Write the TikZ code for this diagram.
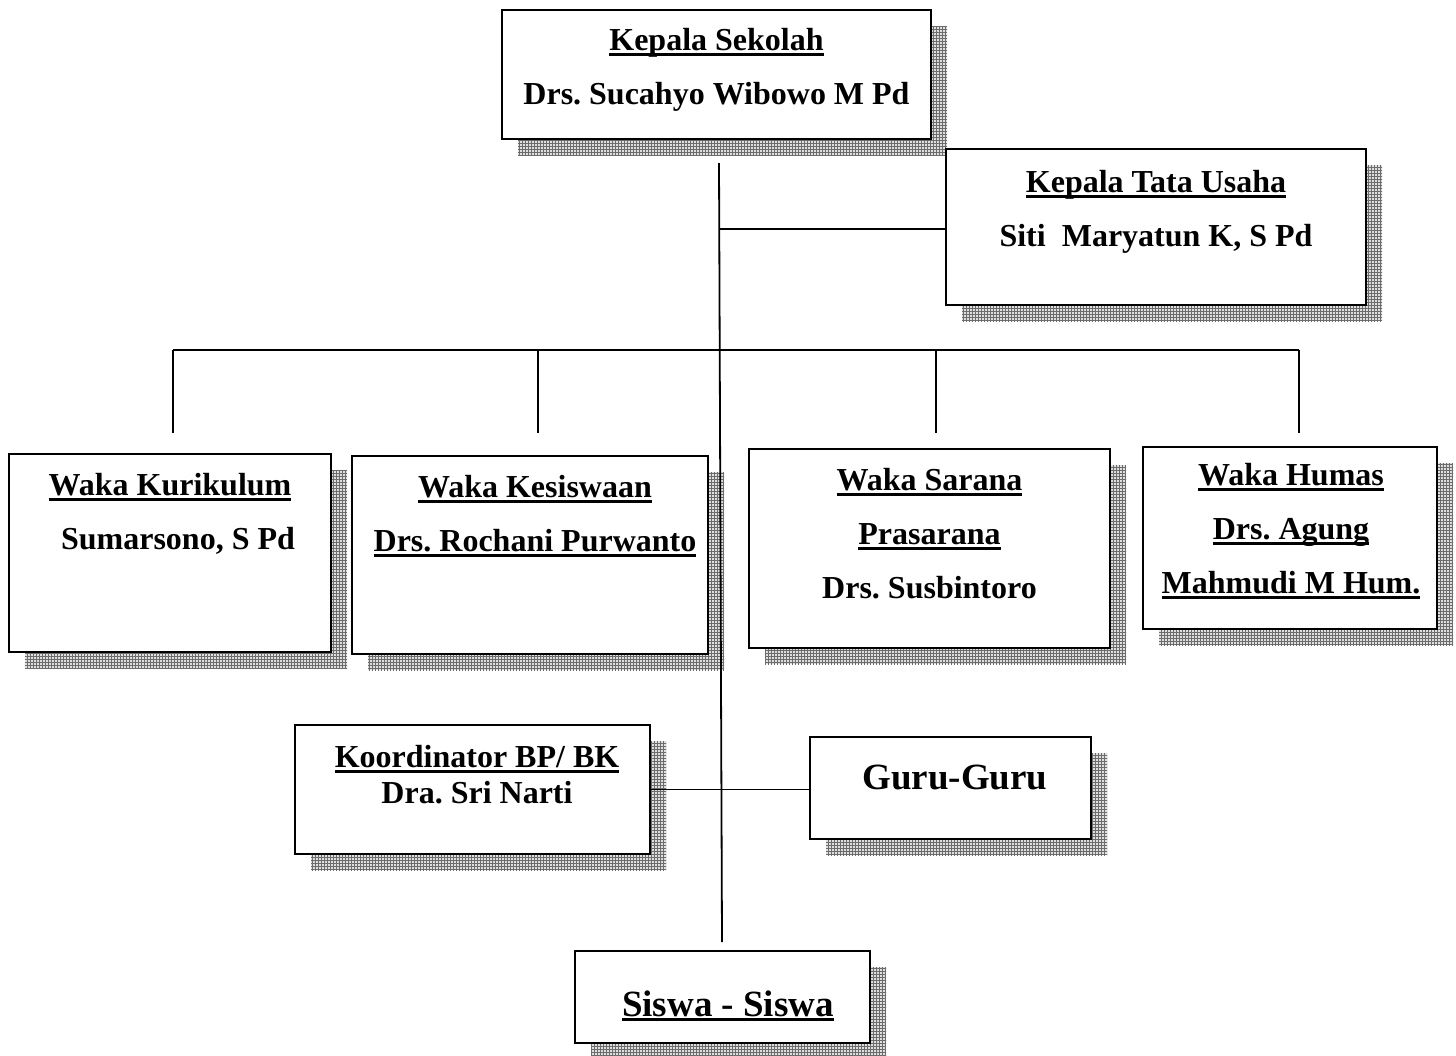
\documentclass[tikz,border=0pt]{standalone}
\usepackage{fontspec}
\setmainfont{Liberation Serif}
\usetikzlibrary{positioning, shadows, patterns}
\frenchspacing

% fine grid for the box shadows
\pgfdeclarepatternformonly{finegrid}{\pgfqpoint{-0.5pt}{-0.5pt}}{\pgfqpoint{2pt}{2pt}}{\pgfqpoint{1.5pt}{1.5pt}}
{
  \pgfsetlinewidth{0.3pt}
  \pgfpathmoveto{\pgfqpoint{0pt}{0pt}}
  \pgfpathlineto{\pgfqpoint{0pt}{1.6pt}}
  \pgfpathmoveto{\pgfqpoint{0pt}{0pt}}
  \pgfpathlineto{\pgfqpoint{1.6pt}{0pt}}
  \pgfusepath{stroke}
}

\newsavebox{\ulbox}
\newcommand{\uln}[1]{\sbox{\ulbox}{#1}\rlap{\rule[-2.6pt]{\wd\ulbox}{1.4pt}}\usebox{\ulbox}}

\begin{document}
\begin{tikzpicture}[
    x=0.5pt, y=-0.5pt,
    box/.style={
        draw,
        line width=1pt,
        fill=white,
        inner sep=0pt,
        general shadow={shadow xshift=8pt, shadow yshift=-8pt, fill=gray!25},
        general shadow={shadow xshift=8pt, shadow yshift=-8pt, pattern=finegrid, pattern color=gray!85!black}
    },
    txt/.style={anchor=north, inner sep=0pt, align=center, font=\fontsize{16}{27}\selectfont\bfseries},
    line/.style={line width=0.9pt}
]
    \useasboundingbox (0,0) rectangle (1456,1055);

    \node[box, minimum width=214.5pt, minimum height=64.5pt] (ks) at (716.5,74.5) {};
    \node[txt] (ks-t) at (716.5,28) {\uln{Kepala Sekolah}\\Drs. Sucahyo Wibowo M Pd};

    \node[box, minimum width=210pt, minimum height=78pt] (ktu) at (1156,227) {};
    \node[txt] (ktu-t) at (1156,170) {\uln{Kepala Tata Usaha}\\Siti~ Maryatun K, S Pd};

    \node[box, minimum width=161pt, minimum height=99pt] (wk) at (170,553) {};
    \node[txt] (wk-t) at (170,473) {\uln{Waka Kurikulum}\\\hspace*{.5em}Sumarsono, S Pd};

    \node[box, minimum width=178pt, minimum height=99pt] (wks) at (530,555) {};
    \node[txt] (wks-t) at (535,475) {\uln{Waka Kesiswaan}\\\uln{Drs. Rochani Purwanto}};

    \node[box, minimum width=180.5pt, minimum height=99.5pt] (wsp) at (929.5,548.5) {};
    \node[txt] (wsp-t) at (929.5,468) {\uln{Waka Sarana}\\\uln{Prasarana}\\Drs. Susbintoro};

    \node[box, minimum width=147pt, minimum height=91pt] (wh) at (1290,538) {};
    \node[txt] (wh-t) at (1291,463) {\uln{Waka Humas}\\\uln{Drs. Agung}\\\uln{Mahmudi M Hum.}};

    \node[box, minimum width=177.5pt, minimum height=64.5pt] (kbp) at (472.5,789.5) {};
    \node[txt, font=\fontsize{16}{18}\selectfont\bfseries] (kbp-t) at (477,745) {\uln{Koordinator BP/ BK}\\Dra. Sri Narti};

    \node[box, minimum width=140.5pt, minimum height=51pt] (guru) at (950.5,788) {};
    \node[txt, font=\fontsize{18.5}{22}\selectfont\bfseries] (guru-t) at (955,765) {Guru-Guru};

    \node[box, minimum width=147.5pt, minimum height=46pt] (siswa) at (722.5,997) {};
    \node[txt, font=\fontsize{18.5}{22}\selectfont\bfseries] (siswa-t) at (728,990) {\uln{Siswa - Siswa}};

    % main line
    \coordinate (top) at (719,163);
    \coordinate (bot) at (722,942);
    \draw[line] (top) -- (bot);

    \coordinate (j-ktu) at (719,229);
    \draw[line] (j-ktu) -- (j-ktu -| ktu.west);

    % bus to the waka boxes
    \foreach \n/\x in {wk/173, wks/538, wsp/936, wh/1299} {
        \coordinate (up-\n) at (\x,350);
        \coordinate (dn-\n) at (\x,433);
        \draw[line] (up-\n) -- (dn-\n);
    }
    \draw[line] (up-wk) -- (up-wh);

    \draw[line] (kbp.east) -- (kbp.east -| guru.west);

\end{tikzpicture}
\end{document}
